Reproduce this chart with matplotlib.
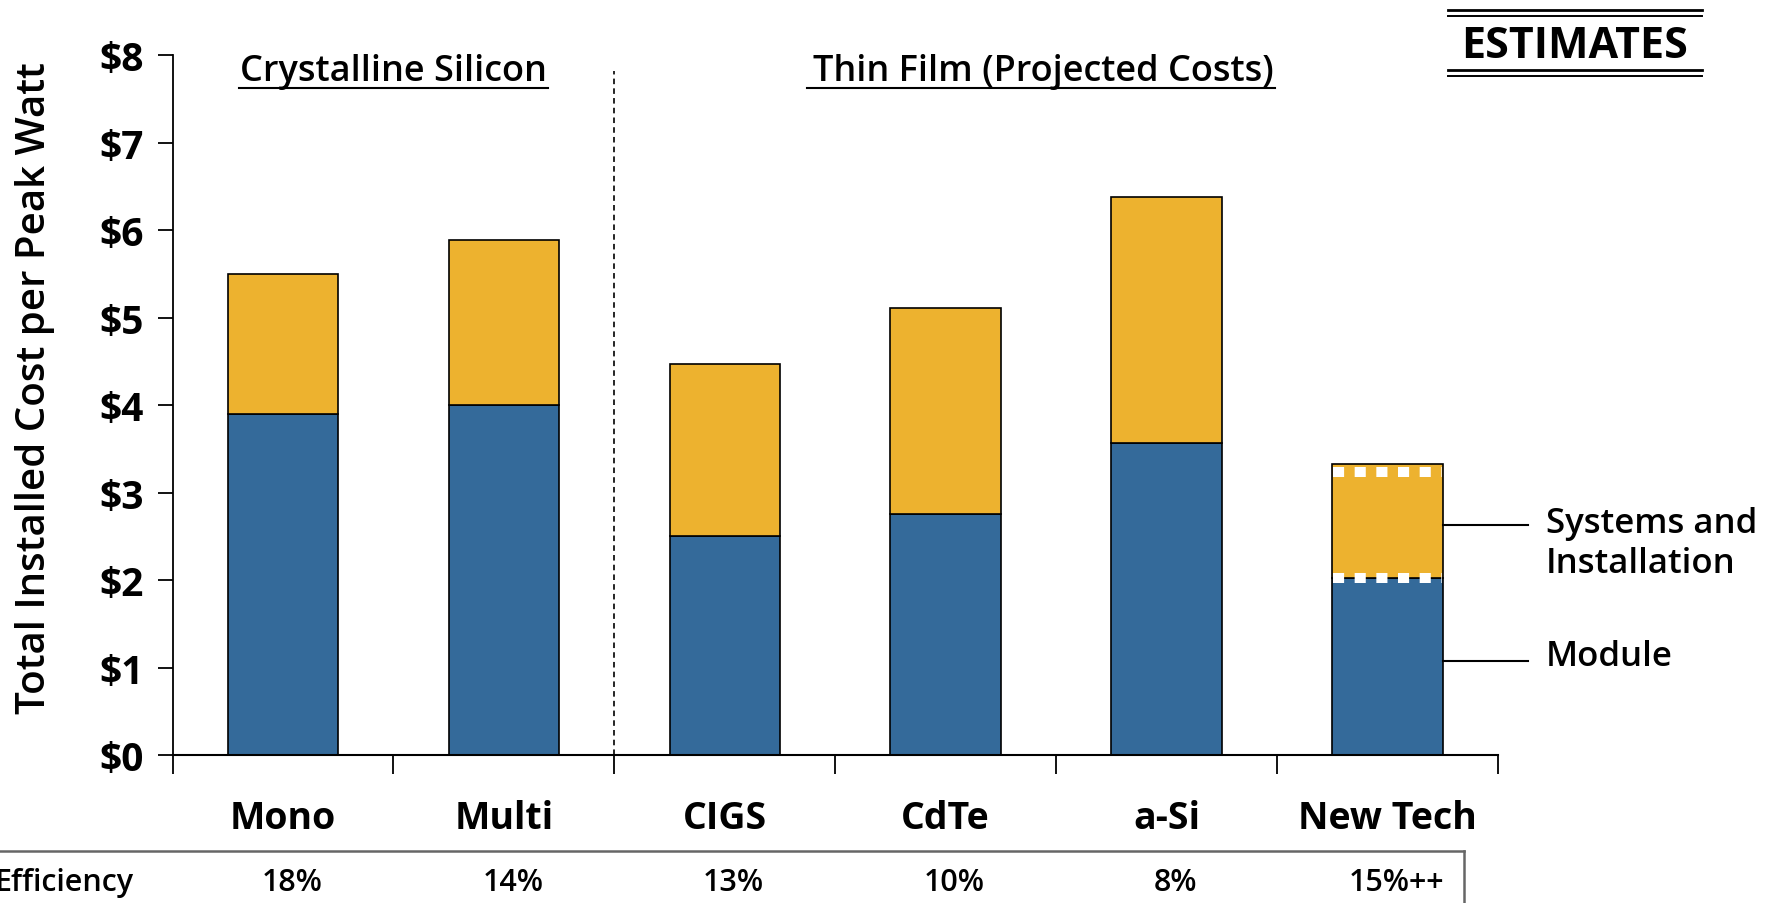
import matplotlib
matplotlib.use('Agg')
import matplotlib.pyplot as plt
import matplotlib.transforms as mtransforms

# 数据
categories = ['Mono', 'Multi', 'CIGS', 'CdTe', 'a-Si', 'New Tech']
module = [3.9, 4.0, 2.5, 2.75, 3.57, 2.02]
total = [5.5, 5.89, 4.47, 5.11, 6.38, 3.33]
efficiency = ['18%', '14%', '13%', '10%', '8%', '15%++']
yticks = [0, 1, 2, 3, 4, 5, 6, 7, 8]

systems = [t - m for t, m in zip(total, module)]

plt.rcParams['font.family'] = ['Open Sans', 'DejaVu Sans']
plt.rcParams['lines.scale_dashes'] = False

blue = '#346A9A'
orange = '#EDB22F'

fig = plt.figure(figsize=(17.79, 9.04), dpi=100)
ax = fig.add_axes([0.097, 0.1637, 0.745, 0.7743])

x = [i + 0.5 for i in range(len(categories))]
ax.bar(x, module, width=0.5, color=blue, edgecolor='black', linewidth=1.2, zorder=2)
ax.bar(x, systems, bottom=module, width=0.5, color=orange, edgecolor='black', linewidth=1.2, zorder=2)

ax.set_xlim(0, 6)
ax.set_ylim(0, 8)
ax.set_yticks(yticks)
ax.set_yticklabels([f'${v}' for v in yticks], fontsize=28, fontweight='bold')
ax.set_xticks(range(7))
ax.set_xticklabels([])
ax.set_xticks(x, minor=True)
ax.set_xticklabels(categories, minor=True, fontsize=27, fontweight='bold')
ax.tick_params(axis='y', length=11, width=1.3, pad=10)
ax.tick_params(axis='x', which='major', length=14, width=1.3)
ax.tick_params(axis='x', which='minor', length=0, pad=32)
for s in ['top', 'right']:
    ax.spines[s].set_visible(False)
ax.spines['left'].set_linewidth(1.3)
ax.spines['bottom'].set_linewidth(1.5)

# 分隔虚线
ax.plot([2, 2], [0, 7.82], color='black', linestyle='--', dashes=(4, 3), linewidth=1.2, zorder=1)

# New Tech 白色虚线
last = len(categories) - 1
for yy in [total[last] - 0.09, module[last]]:
    ax.plot([x[last] - 0.25 + 0.005, x[last] + 0.25 - 0.005], [yy, yy], color='white',
            linewidth=7.2, dashes=(8, 7.6), dash_capstyle='butt', zorder=3)

# 图例引线
sys_mid = module[last] + systems[last] / 2
mod_mid = module[last] / 2
for yy in [sys_mid - 0.05, mod_mid + 0.06]:
    ax.plot([x[last] + 0.25, x[last] + 0.635], [yy, yy], color='black', lw=1.5, clip_on=False)
ax.text(x[last] + 0.717, sys_mid - 0.25, 'Systems and\nInstallation', fontsize=25,
        fontweight='semibold', va='center', ha='left', linespacing=1.25)
ax.text(x[last] + 0.717, mod_mid + 0.12, 'Module', fontsize=25, fontweight='semibold',
        va='center', ha='left')

# 分组标题
ax.text(1, 7.82, 'Crystalline Silicon', fontsize=26, fontweight='semibold', ha='center', va='center')
ax.plot([0.3, 1.7], [7.62, 7.62], color='black', lw=1.5, clip_on=False)
ax.text(3.94, 7.82, 'Thin Film (Projected Costs)', fontsize=26, fontweight='semibold', ha='center', va='center')
ax.plot([2.87, 4.99], [7.62, 7.62], color='black', lw=1.5, clip_on=False)

# ESTIMATES
fig.text(1575 / 1779, 1 - 46 / 904, 'ESTIMATES', fontsize=31, fontweight='bold', ha='center', va='center')
for yy, lw in [(11, 2.0), (16.5, 1.4), (71, 2.0), (77, 1.4)]:
    fig.add_artist(plt.Line2D([1448 / 1779, 1702 / 1779], [1 - yy / 904, 1 - yy / 904],
                              color='black', lw=lw))

# 效率表
fig.add_artist(plt.Line2D([0, 1464 / 1779], [1 - 852 / 904, 1 - 852 / 904], color='#666666', lw=1.8))
fig.add_artist(plt.Line2D([1464 / 1779, 1464 / 1779], [1 - 852 / 904, 0], color='#666666', lw=1.8))
fig.text(133 / 1779, 1 - 883 / 904, 'Efficiency', fontsize=22, fontweight='semibold', ha='right', va='center')
trans = mtransforms.blended_transform_factory(ax.transData, fig.transFigure)
for xi, e in zip(x, efficiency):
    ax.text(xi + 0.04, 1 - 883 / 904, e, fontsize=22, fontweight='semibold', ha='center',
            va='center', transform=trans)

fig.text(35 / 1779, 1 - 388 / 904, 'Total Installed Cost per Peak Watt', fontsize=29,
         fontweight='semibold', rotation=90, ha='center', va='center')

plt.savefig('out.png', dpi=100)
